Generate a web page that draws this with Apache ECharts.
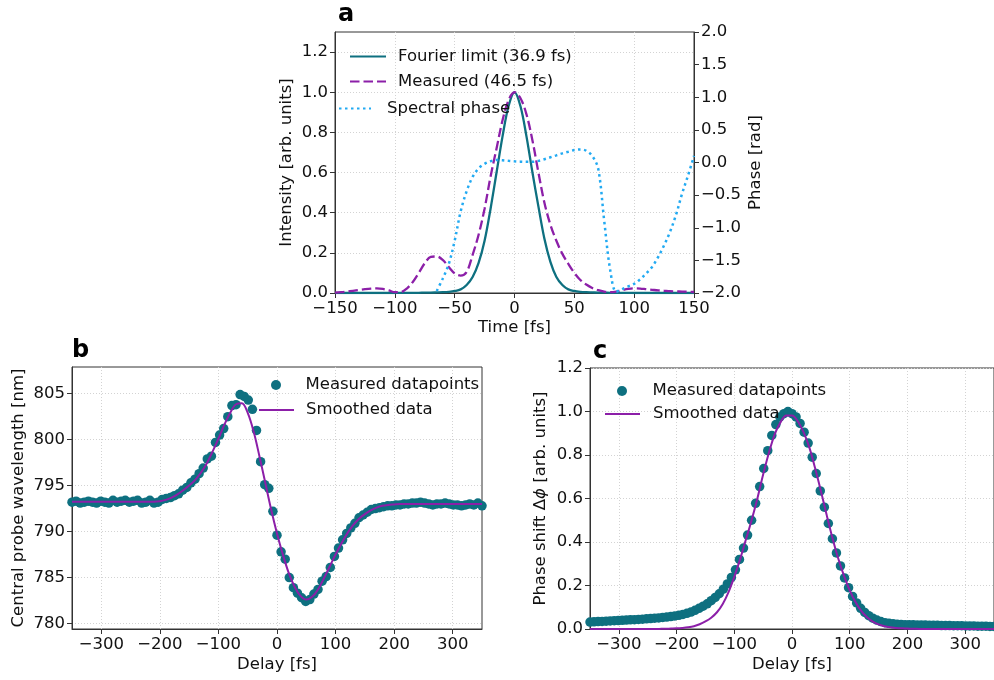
<!DOCTYPE html>
<html><head><meta charset="utf-8">
<script src="https://cdn.jsdelivr.net/npm/echarts@6/dist/echarts.min.js"></script>
<style>html,body{margin:0;padding:0;background:#fff}#c{width:994px;height:680px}</style>
</head><body><div id="c"></div>
<script>
// ---------- Panel a ----------
const timeA = [-150,-145,-140,-135,-130,-125,-120,-115,-110,-105,-100,-95,-90,-85,-80,-75,-70,-65,-60,-55,-50,-45,-40,-35,-30,-25,-20,-15,-10,-5,0,5,10,15,20,25,30,35,40,45,50,55,60,65,70,75,80,85,90,95,100,105,110,115,120,125,130,135,140,145,150];
const fourierLimit = [0,0,0,0,0,0,0,0,0,0,0,0.001,0.001,0.001,0.001,0.002,0.002,0.003,0.004,0.006,0.01,0.018,0.04,0.08,0.15,0.26,0.42,0.6,0.78,0.93,1.0,0.93,0.78,0.6,0.43,0.27,0.155,0.08,0.04,0.018,0.01,0.006,0.004,0.003,0.002,0.002,0.001,0.001,0.001,0.001,0,0,0,0,0,0,0,0,0,0,0];
const measuredA = [0.002,0.004,0.007,0.011,0.015,0.019,0.022,0.023,0.02,0.013,0.004,0.005,0.022,0.055,0.1,0.148,0.18,0.182,0.165,0.13,0.098,0.087,0.105,0.19,0.29,0.42,0.58,0.72,0.86,0.96,1.0,0.97,0.89,0.76,0.6,0.45,0.34,0.26,0.195,0.145,0.1,0.065,0.042,0.025,0.014,0.007,0.004,0.007,0.014,0.02,0.023,0.022,0.019,0.016,0.013,0.011,0.009,0.008,0.007,0.006,0.005];
const spectralPhase = [null,null,null,null,null,null,null,null,null,null,null,null,null,null,null,null,null,-1.97,-1.78,-1.56,-1.2,-0.75,-0.44,-0.22,-0.09,-0.02,0.02,0.04,0.035,0.025,0.018,0.013,0.01,0.01,0.025,0.05,0.08,0.11,0.14,0.165,0.19,0.2,0.18,0.1,-0.1,-0.9,-1.65,-1.98,-1.94,-1.9,-1.86,-1.79,-1.7,-1.6,-1.45,-1.27,-1.06,-0.8,-0.48,-0.2,0.1];
const ticksA_x = [-150,-100,-50,0,50,100,150];
const ticksA_y = [0,0.2,0.4,0.6,0.8,1.0,1.2];
const ticksA_phase = [-2,-1.5,-1,-0.5,0,0.5,1,1.5,2];

// ---------- Panels b & c ----------
const delays = [-350,-343,-336,-329,-322,-315,-308,-301,-294,-287,-280,-273,-266,-259,-252,-245,-238,-231,-224,-217,-210,-203,-196,-189,-182,-175,-168,-161,-154,-147,-140,-133,-126,-119,-112,-105,-98,-91,-84,-77,-70,-63,-56,-49,-42,-35,-28,-21,-14,-7,0,7,14,21,28,35,42,49,56,63,70,77,84,91,98,105,112,119,126,133,140,147,154,161,168,175,182,189,196,203,210,217,224,231,238,245,252,259,266,273,280,287,294,301,308,315,322,329,336,343,350];
const wavelengthMeasured = [793.2,793.3,793.1,793.2,793.3,793.2,793.1,793.3,793.2,793.1,793.4,793.2,793.3,793.4,793.2,793.3,793.4,793.1,793.2,793.4,793.1,793.2,793.5,793.6,793.7,793.9,794.1,794.5,794.8,795.3,795.7,796.3,796.9,797.9,798.2,799.7,800.5,801.2,802.5,803.7,803.8,804.9,804.7,804.3,803.3,801.0,797.6,795.1,794.7,792.2,789.6,787.8,787.0,785.0,783.9,783.3,782.8,782.4,782.6,783.2,783.7,784.6,785.1,786.1,787.3,788.2,789.1,789.8,790.4,790.9,791.5,791.8,792.1,792.4,792.5,792.6,792.7,792.8,792.8,792.9,792.9,793.0,793.0,793.1,793.1,793.2,793.1,793.0,792.9,793.0,793.0,793.1,793.0,792.9,792.9,792.8,792.9,793.0,792.9,793.1,792.8];
const phaseShiftMeasured = [0.032,0.033,0.034,0.035,0.036,0.037,0.038,0.039,0.04,0.041,0.042,0.043,0.044,0.045,0.047,0.048,0.05,0.051,0.053,0.055,0.057,0.06,0.063,0.067,0.072,0.078,0.086,0.095,0.105,0.116,0.13,0.145,0.162,0.183,0.207,0.237,0.272,0.32,0.372,0.432,0.5,0.578,0.655,0.738,0.82,0.89,0.94,0.975,0.99,1.0,0.99,0.975,0.945,0.905,0.855,0.79,0.715,0.635,0.56,0.485,0.415,0.35,0.29,0.235,0.19,0.15,0.12,0.095,0.076,0.061,0.05,0.041,0.034,0.029,0.026,0.024,0.022,0.021,0.02,0.019,0.019,0.018,0.018,0.018,0.017,0.017,0.017,0.016,0.016,0.016,0.015,0.015,0.015,0.014,0.014,0.014,0.013,0.013,0.013,0.012,0.012];
const smoothDelays = [-350,-340,-330,-320,-310,-300,-290,-280,-270,-260,-250,-240,-230,-220,-210,-200,-190,-180,-170,-160,-150,-140,-130,-120,-110,-100,-90,-80,-70,-60,-50,-40,-30,-20,-10,0,10,20,30,40,50,60,70,80,90,100,110,120,130,140,150,160,170,180,190,200,210,220,230,240,250,260,270,280,290,300,310,320,330,340,350];
const wavelengthSmoothed = [793.25,793.25,793.25,793.25,793.25,793.25,793.25,793.25,793.25,793.25,793.25,793.25,793.25,793.25,793.25,793.3,793.45,793.7,794.05,794.5,795.0,795.6,796.4,797.4,798.7,800.1,801.6,802.9,803.85,803.95,802.9,800.9,798.2,795.3,792.4,789.8,787.5,785.5,784.0,783.0,782.6,782.9,783.7,784.9,786.2,787.5,788.7,789.8,790.7,791.4,791.9,792.3,792.6,792.8,792.9,792.95,793.0,793.0,793.0,793.0,793.0,793.0,793.0,793.0,793.0,793.0,793.0,793.0,793.0,793.0,793.0];
const phaseShiftSmoothed = [0,0,0,0,0,0,0,0,0,0,0,0,0.0005,0.001,0.002,0.003,0.005,0.008,0.013,0.022,0.035,0.052,0.077,0.115,0.17,0.24,0.32,0.41,0.5,0.6,0.71,0.81,0.895,0.95,0.982,0.982,0.955,0.905,0.835,0.74,0.635,0.525,0.42,0.325,0.245,0.178,0.124,0.083,0.054,0.034,0.021,0.013,0.008,0.005,0.003,0.002,0.001,0.0005,0,0,0,0,0,0,0,0,0,0,0,0,0];
const ticksBC_x = [-300,-200,-100,0,100,200,300];
const ticksB_y = [780,785,790,795,800,805];
const ticksC_y = [0,0.2,0.4,0.6,0.8,1.0,1.2];

// ---------- styling ----------
const FONT = 'DejaVu Sans';
const FS = 16.5;
const TEAL = '#0e7080', PURPLE = '#8c1fa8', BLUE = '#22aaf2';
const TXT = '#111';
const minus = s => String(s).replace('-', '\u2212');
const f1 = v => minus((+v).toFixed(1));
const f0 = v => minus(Math.round(v));
const pairs = (xs, ys) => xs.map((x, i) => [x, ys[i]]);

function lbl(extra) {
  return Object.assign({ color: TXT, fontSize: FS, fontFamily: FONT, margin: 7 }, extra);
}
function tick(extra) {
  return Object.assign({ show: true, length: 5, lineStyle: { color: '#333', width: 1 } }, extra);
}
function axisCommon(extra) {
  return Object.assign({
    type: 'value',
    axisLine: { show: true, onZero: false, lineStyle: { color: '#333', width: 1 } },
    axisTick: tick({}),
    axisLabel: lbl({}),
    splitLine: { show: true, lineStyle: { color: '#d3d3d3', type: [1, 2], width: 1 } },
    nameTextStyle: { color: TXT, fontSize: FS, fontFamily: FONT },
    nameLocation: 'middle'
  }, extra);
}

const gridStyle = { show: true, borderColor: '#333', borderWidth: 1, backgroundColor: 'transparent', containLabel: false };
const legText = pad => ({ fontSize: FS, fontFamily: FONT, color: TXT, padding: [0, 0, 0, pad] });
const hideSym = { opacity: 0 };

const option = {
  animation: false,
  backgroundColor: '#fff',
  textStyle: { fontFamily: FONT },
  title: [
    { text: 'a', left: 338, top: 3, padding: 0, textStyle: { fontSize: 24, fontWeight: 'bold', fontFamily: FONT, color: '#000' } },
    { text: 'b', left: 72, top: 339, padding: 0, textStyle: { fontSize: 24, fontWeight: 'bold', fontFamily: FONT, color: '#000' } },
    { text: 'c', left: 593, top: 340, padding: 0, textStyle: { fontSize: 24, fontWeight: 'bold', fontFamily: FONT, color: '#000' } }
  ],
  grid: [
    Object.assign({ left: 335, top: 32, width: 359, height: 261 }, gridStyle),
    Object.assign({ left: 72, top: 367, width: 410, height: 262 }, gridStyle),
    Object.assign({ left: 590, top: 368, width: 410, height: 261 }, gridStyle)
  ],
  xAxis: [
    axisCommon({ gridIndex: 0, min: -150, max: 150, interval: 50, name: 'Time [fs]', nameGap: 26,
      axisLabel: lbl({ formatter: f0 }) }),
    axisCommon({ gridIndex: 1, min: -350, max: 350, name: 'Delay [fs]', nameGap: 27,
      axisTick: tick({ customValues: ticksBC_x }),
      axisLabel: lbl({ formatter: f0, customValues: ticksBC_x }) }),
    axisCommon({ gridIndex: 2, min: -350, max: 350, name: 'Delay [fs]', nameGap: 27,
      axisTick: tick({ customValues: ticksBC_x }),
      axisLabel: lbl({ formatter: f0, customValues: ticksBC_x }) })
  ],
  yAxis: [
    axisCommon({ gridIndex: 0, min: 0, max: 1.3, name: 'Intensity [arb. units]', nameGap: 40, nameRotate: 90,
      axisTick: tick({ customValues: ticksA_y }),
      axisLabel: lbl({ formatter: f1, customValues: ticksA_y }) }),
    axisCommon({ gridIndex: 0, position: 'right', min: -2, max: 2, interval: 0.5, name: 'Phase [rad]', nameGap: 53, nameRotate: 90,
      splitLine: { show: false },
      axisTick: tick({ customValues: ticksA_phase }),
      axisLabel: lbl({ formatter: f1, customValues: ticksA_phase }) }),
    axisCommon({ gridIndex: 1, min: 779.4, max: 807.9, name: 'Central probe wavelength [nm]', nameGap: 45, nameRotate: 90,
      axisTick: tick({ customValues: ticksB_y }),
      axisLabel: lbl({ formatter: f0, customValues: ticksB_y }) }),
    axisCommon({ gridIndex: 2, min: 0, max: 1.2, name: 'Phase shift \u0394{i|\u03d5} [arb. units]', nameGap: 41, nameRotate: 90,
      nameTextStyle: { color: TXT, fontSize: FS, fontFamily: FONT, rich: { i: { fontStyle: 'italic', fontSize: FS, fontFamily: FONT, color: TXT } } },
      axisTick: tick({ customValues: ticksC_y }),
      axisLabel: lbl({ formatter: f1, customValues: ticksC_y }) })
  ],
  legend: [
    { selectedMode: false, padding: 0, data: ['Fourier limit (36.9 fs)', 'Measured (46.5 fs)'], orient: 'vertical', left: 349, top: 48, itemWidth: 36, itemHeight: 14, itemGap: 8,
      itemStyle: hideSym, textStyle: legText(7) },
    { selectedMode: false, padding: 0, data: ['Spectral phase'], left: 338, top: 100, itemWidth: 32, itemHeight: 14,
      itemStyle: hideSym, textStyle: legText(11) },
    { selectedMode: false, padding: 0, data: ['Measured datapoints'], left: 271, top: 376.5, itemWidth: 35, itemHeight: 10,
      textStyle: legText(7) },
    { selectedMode: false, padding: 0, data: ['Smoothed data'], left: 258, top: 401.5, itemWidth: 35, itemHeight: 14,
      itemStyle: hideSym, textStyle: legText(7) },
    { selectedMode: false, padding: 0, data: ['Measured datapoints'], left: 617, top: 382.5, itemWidth: 35, itemHeight: 10,
      textStyle: legText(8) },
    { selectedMode: false, padding: 0, data: ['Smoothed data'], left: 604, top: 405.5, itemWidth: 35, itemHeight: 14,
      itemStyle: hideSym, textStyle: legText(8) }
  ],
  series: [
    { name: 'Fourier limit (36.9 fs)', type: 'line', xAxisIndex: 0, yAxisIndex: 0, data: pairs(timeA, fourierLimit),
      symbol: 'none', smooth: 0.35, lineStyle: { color: TEAL, width: 2.3 }, itemStyle: { color: TEAL }, z: 2 },
    { name: 'Measured (46.5 fs)', type: 'line', xAxisIndex: 0, yAxisIndex: 0, data: pairs(timeA, measuredA),
      symbol: 'none', smooth: 0.35, lineStyle: { color: PURPLE, width: 2.3, type: [9.5, 4] }, itemStyle: { color: PURPLE }, z: 3 },
    { name: 'Spectral phase', type: 'line', xAxisIndex: 0, yAxisIndex: 1, data: pairs(timeA, spectralPhase),
      symbol: 'none', smooth: 0.35, connectNulls: false, lineStyle: { color: BLUE, width: 2.5, type: [2.5, 3.5] }, itemStyle: { color: BLUE }, z: 4 },
    { name: 'Measured datapoints', type: 'scatter', xAxisIndex: 1, yAxisIndex: 2, data: pairs(delays, wavelengthMeasured),
      symbol: 'circle', symbolSize: 9.5, itemStyle: { color: TEAL, opacity: 1 }, z: 2 },
    { name: 'Smoothed data', type: 'line', xAxisIndex: 1, yAxisIndex: 2, data: pairs(smoothDelays, wavelengthSmoothed),
      symbol: 'none', smooth: 0.35, lineStyle: { color: PURPLE, width: 2 }, itemStyle: { color: PURPLE }, z: 3 },
    { name: 'Measured datapoints', type: 'scatter', xAxisIndex: 2, yAxisIndex: 3, data: pairs(delays, phaseShiftMeasured),
      symbol: 'circle', symbolSize: 9.5, itemStyle: { color: TEAL, opacity: 1 }, z: 2 },
    { name: 'Smoothed data', type: 'line', xAxisIndex: 2, yAxisIndex: 3, data: pairs(smoothDelays, phaseShiftSmoothed),
      symbol: 'none', smooth: 0.35, lineStyle: { color: PURPLE, width: 2 }, itemStyle: { color: PURPLE }, z: 3 }
  ]
};

const chart = echarts.init(document.getElementById('c'), null, { renderer: 'canvas', width: 994, height: 680 });
chart.setOption(option);
</script></body></html>
